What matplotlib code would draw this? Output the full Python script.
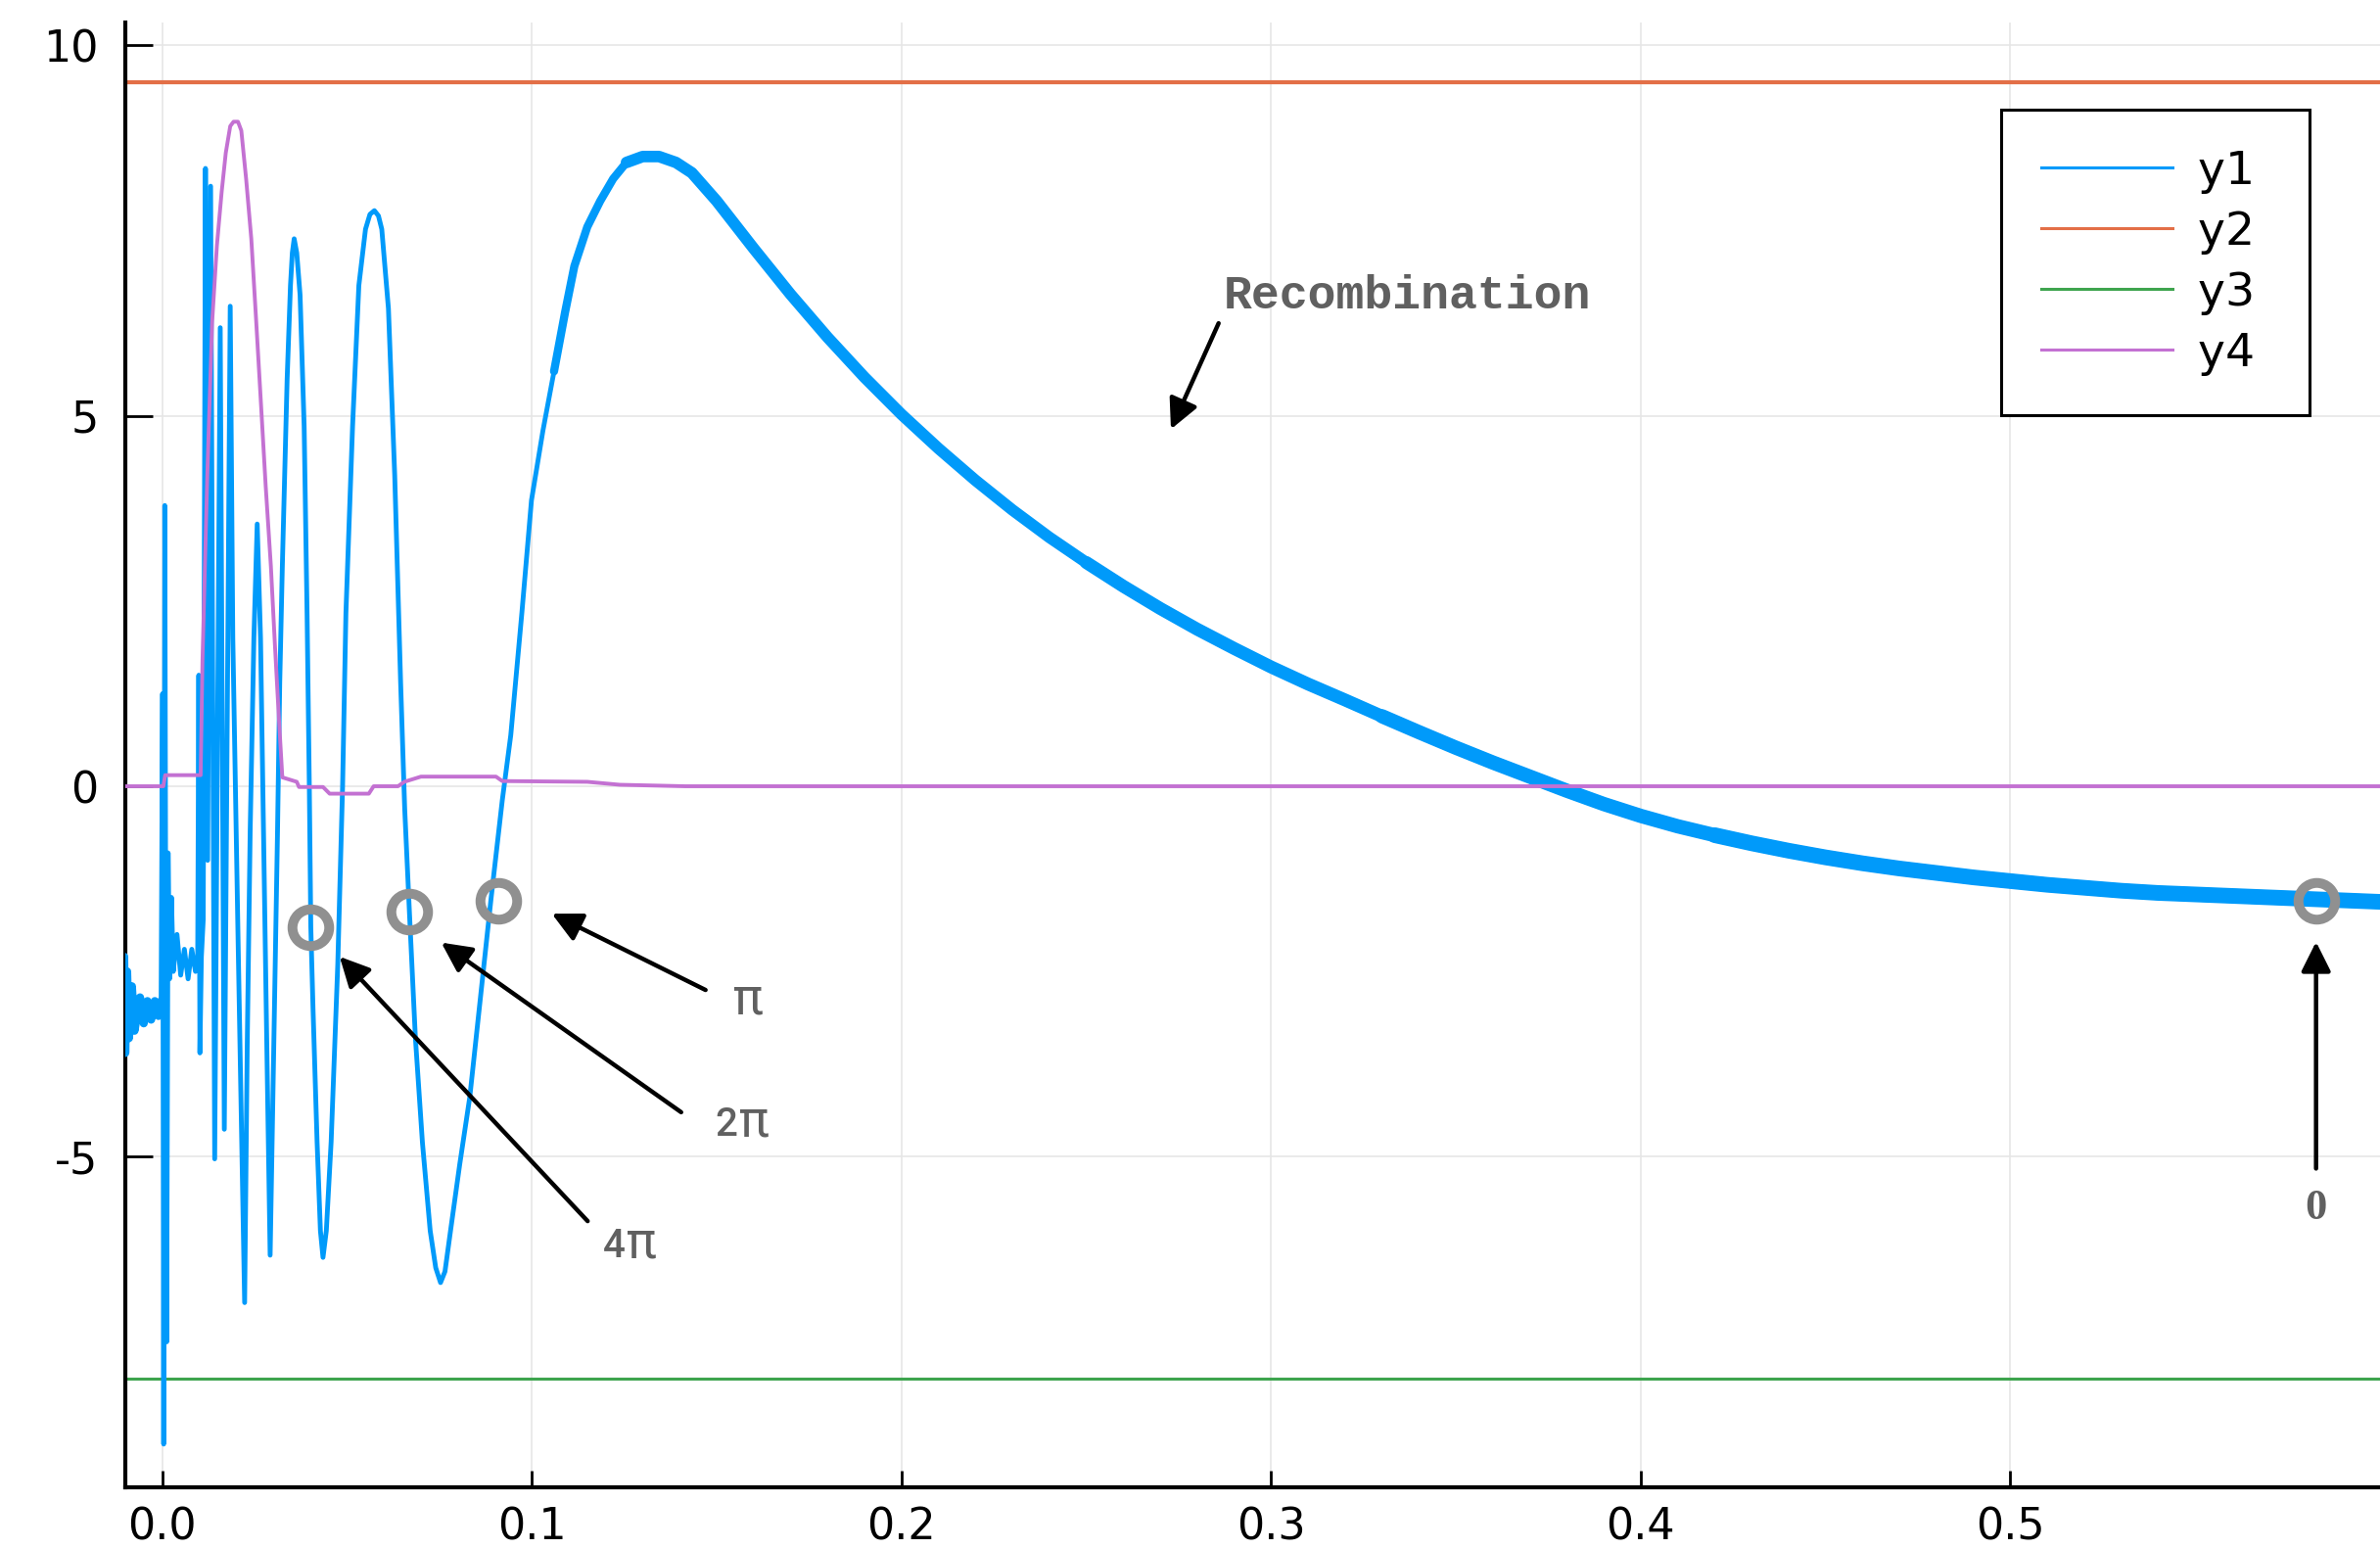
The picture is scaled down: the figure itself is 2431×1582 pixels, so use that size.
import matplotlib.pyplot as plt
from matplotlib.lines import Line2D

y1_x = [-0.0103, -0.0100, -0.0095, -0.0090, -0.0082, -0.0075, -0.0060, -0.0050, -0.0040,
        -0.0030, -0.0020, -0.0010, -0.0003, 0.0001, 0.0004, 0.0007, 0.0012, 0.0016, 0.0020,
        0.0025, 0.0030, 0.0040, 0.0050, 0.0060, 0.0070, 0.0080, 0.0090, 0.0096, 0.0099,
        0.0102, 0.0106, 0.0111, 0.0117, 0.0123, 0.0131, 0.0142, 0.0157, 0.0168, 0.0184,
        0.0191, 0.0205, 0.0223, 0.0230, 0.0238, 0.0248, 0.0257, 0.0266, 0.0274, 0.0283,
        0.0292, 0.0302, 0.0312, 0.0318, 0.0325, 0.0338, 0.0347, 0.0352, 0.0357, 0.0364,
        0.0373, 0.0384, 0.0392, 0.0398, 0.0402, 0.0408, 0.0419, 0.0428, 0.0435, 0.0444,
        0.0457, 0.0475, 0.0488, 0.0497, 0.0515, 0.0532, 0.0550, 0.0562, 0.0574, 0.0585,
        0.0594, 0.0612, 0.0629, 0.0645, 0.0656, 0.0669, 0.0685, 0.0704, 0.0725, 0.0740,
        0.0753, 0.0765, 0.0780, 0.0805, 0.0832, 0.0890, 0.0920, 0.0943, 0.0973, 0.0999,
        0.1030, 0.1060, 0.1090, 0.1115, 0.1150, 0.1185, 0.1220, 0.1256, 0.1300, 0.1344,
        0.1390, 0.1433, 0.1500, 0.1600, 0.1700, 0.1800, 0.1900, 0.2000, 0.2100, 0.2200,
        0.2300, 0.2400, 0.2500, 0.2600, 0.2700, 0.2800, 0.2900, 0.3000, 0.3100, 0.3200,
        0.3300, 0.3400, 0.3500, 0.3600, 0.3700, 0.3800, 0.3900, 0.4000, 0.4100, 0.4200,
        0.4300, 0.4400, 0.4500, 0.4600, 0.4700, 0.4800, 0.4900, 0.5000, 0.5100, 0.5200,
        0.5300, 0.5400, 0.5500, 0.5600, 0.5700, 0.5800, 0.5900, 0.6000]
y1_y = [-2.3, -3.6, -2.5, -3.4, -2.7, -3.3, -2.85, -3.2, -2.9,
        -3.15, -2.9, -3.1, -2.9, 1.25, -8.88, 3.79, -7.5, -0.9, -2.6,
        -1.5, -2.5, -2.0, -2.55, -2.2, -2.6, -2.2, -2.5, -2.3, 1.5,
        -3.6, -2.3, -1.8, 8.34, -1.0, 8.1, -5.03, 6.19, -4.63, 6.48,
        2.0, -2.0, -6.97, -3.5, -0.6, 2.0, 3.54, 2.0, -0.6, -3.5,
        -6.33, -3.5, -0.6, 1.4, 2.97, 5.5, 6.76, 7.2, 7.39, 7.2,
        6.63, 4.86, 2.3, 0.0, -1.9, -3.0, -4.8, -6.0, -6.36, -6.0,
        -4.8, -2.4, 0.0, 2.34, 4.86, 6.76, 7.52, 7.72, 7.77, 7.70,
        7.52, 6.45, 4.2, 1.4, -0.3, -1.72, -3.4, -4.81, -6.0, -6.5,
        -6.7, -6.55, -6.0, -5.1, -4.2, -1.5, -0.19, 0.69, 2.34, 3.86,
        4.8, 5.6, 6.4, 7.02, 7.55, 7.9, 8.2, 8.42, 8.5, 8.5,
        8.42, 8.28, 7.90, 7.26, 6.64, 6.06, 5.52, 5.02, 4.56, 4.13,
        3.73, 3.36, 3.02, 2.70, 2.40, 2.12, 1.86, 1.61, 1.38, 1.165,
        0.945, 0.73, 0.52, 0.32, 0.13, -0.06, -0.24, -0.40, -0.54, -0.66,
        -0.77, -0.87, -0.96, -1.04, -1.11, -1.17, -1.23, -1.28, -1.33, -1.37,
        -1.41, -1.44, -1.46, -1.48, -1.50, -1.52, -1.54, -1.56]

# y4: pulso
y4_x = [-0.0103, 0.0003, 0.0008, 0.0104, 0.0109, 0.0122, 0.0135, 0.0148, 0.0161, 0.0172,
        0.0184, 0.0193, 0.0205, 0.0214, 0.0227, 0.0241, 0.0254, 0.0267, 0.0280, 0.0294,
        0.0305, 0.0316, 0.0325, 0.0364, 0.0370, 0.0435, 0.0453, 0.0559, 0.0572, 0.0638,
        0.0655, 0.0700, 0.0903, 0.0920, 0.1150, 0.1238, 0.1415, 0.6000]
y4_y = [0.0, 0.0, 0.15, 0.15, 1.7, 4.2, 6.26, 7.3, 8.03, 8.55,
        8.91, 8.97, 8.97, 8.85, 8.2, 7.39, 6.3, 5.18, 4.05, 2.97,
        1.9, 0.89, 0.12, 0.06, -0.01, -0.01, -0.10, -0.10, 0.0, 0.0,
        0.06, 0.13, 0.13, 0.07, 0.06, 0.02, 0.0, 0.0]

# y2 e y3: niveis constantes
y2_x = [-0.0103, 0.6]
y2_y = [9.5, 9.5]
y3_x = [-0.0103, 0.6]
y3_y = [-8.0, -8.0]

nomes = ["y1", "y2", "y3", "y4"]

# circulos e setas das fases
circ_x = [0.0400, 0.0669, 0.0909, 0.5827]
circ_y = [-1.90, -1.69, -1.54, -1.54]
fase_num = ["4", "2", "", "0"]
fase_pi = [True, True, True, False]
fase_rot_x = [0.1252, 0.1555, 0.1586, 0.5827]
fase_rot_y = [-6.36, -4.72, -3.07, -5.84]
seta_ini_x = [0.1151, 0.1404, 0.1470, 0.5827]
seta_ini_y = [-5.87, -4.40, -2.75, -5.16]
seta_fim_x = [0.0480, 0.0755, 0.1054, 0.5827]
seta_fim_y = [-2.30, -2.11, -1.72, -2.10]

# anotacao "Recombination"
recomb_txt = "Recombination"
recomb_pos = (0.2872, 6.45)
recomb_seta_ini = (0.2858, 6.25)
recomb_seta_fim = (0.2729, 4.82)

xticks = [0.0, 0.1, 0.2, 0.3, 0.4, 0.5]
xticklabels = ["0.0", "0.1", "0.2", "0.3", "0.4", "0.5"]
yticks = [-5, 0, 5, 10]
yticklabels = ["-5", "0", "5", "10"]

azul = "#009AFA"
laranja = "#E36F47"
verde = "#3EA44E"
roxo = "#C371D2"
cinza = "#909090"
cinza_txt = "#606060"


def fatia(x_min, x_max):
    idx = [i for i, v in enumerate(y1_x) if x_min <= v <= x_max]
    return [y1_x[i] for i in idx], [y1_y[i] for i in idx]


def desenhar():
    fig = plt.figure(figsize=(24.31, 15.82), dpi=100)
    ax = fig.add_axes([0.05278, 0.03982, 0.94722, 0.94564])

    ax.plot(y1_x, y1_y, color=azul, lw=3.5, zorder=3)
    # partes ruidosas do sinal ficam mais grossas
    for x_min, x_max, lw in [(-0.02, -0.0003, 6), (0.106, 0.7, 6), (0.125, 0.7, 8.5),
                             (0.25, 0.7, 9.5), (0.33, 0.7, 10.5), (0.42, 0.7, 11.5)]:
        xs, ys = fatia(x_min, x_max)
        ax.plot(xs, ys, color=azul, lw=lw, solid_capstyle="round", solid_joinstyle="round", zorder=3)
    ax.plot(y2_x, y2_y, color=laranja, lw=3.0, zorder=2)
    ax.plot(y3_x, y3_y, color=verde, lw=2.2, zorder=2)
    ax.plot(y4_x, y4_y, color=roxo, lw=2.8, zorder=4)

    # circulos
    ax.plot(circ_x, circ_y, "o", mfc="none", mec=cinza, ms=27, mew=7.2, zorder=5)

    seta = dict(arrowstyle="-|>", color="black", lw=3.2, mutation_scale=46, shrinkA=0, shrinkB=0)
    for i in range(len(fase_num)):
        ax.annotate("", xy=(seta_fim_x[i], seta_fim_y[i]), xytext=(seta_ini_x[i], seta_ini_y[i]),
                    arrowprops=seta, zorder=6)
        if not fase_pi[i]:
            ax.text(fase_rot_x[i], fase_rot_y[i], fase_num[i], ha="center", va="baseline",
                    fontsize=32, fontweight="bold", family="Liberation Serif", color=cinza_txt)
        elif fase_num[i] == "":
            ax.text(fase_rot_x[i], fase_rot_y[i], "π", ha="center", va="baseline",
                    fontsize=37, family=["Roboto", "DejaVu Sans"], color=cinza_txt)
        else:
            ax.text(fase_rot_x[i], fase_rot_y[i], fase_num[i], ha="right", va="baseline",
                    fontsize=29, fontweight="medium", family=["Roboto", "DejaVu Sans"], color=cinza_txt)
            ax.text(fase_rot_x[i] + 0.0005, fase_rot_y[i], "π", ha="left", va="baseline",
                    fontsize=37, family=["Roboto", "DejaVu Sans"], color=cinza_txt)

    ax.annotate("", xy=recomb_seta_fim, xytext=recomb_seta_ini, arrowprops=seta, zorder=6)
    ax.text(recomb_pos[0], recomb_pos[1], recomb_txt, ha="left", va="baseline", fontsize=34.7,
            fontweight="bold", family="Liberation Mono", color=cinza_txt)

    # eixos
    ax.set_xlim(-0.0099, 0.6)
    ax.set_ylim(-9.463, 10.309)
    ax.set_xticks(xticks)
    ax.set_xticklabels(xticklabels)
    ax.set_yticks(yticks)
    ax.set_yticklabels(yticklabels)
    ax.grid(True, color="#e6e6e6", lw=1.2, zorder=0)
    ax.set_axisbelow(True)
    for lado in ["top", "right"]:
        ax.spines[lado].set_visible(False)
    for lado in ["left", "bottom"]:
        ax.spines[lado].set_linewidth(3)
    ax.tick_params(axis="y", direction="in", length=20, width=2, pad=20, labelsize=32)
    ax.tick_params(axis="x", direction="in", length=12, width=2, pad=14, labelsize=32)

    # legenda (espaco no fim do nome deixa mais folga a direita, como no original)
    handles = [Line2D([], [], color=c, lw=2.2) for c in [azul, laranja, verde, roxo]]
    leg = ax.legend(handles, [n + " " for n in nomes], loc="upper right",
                    bbox_to_anchor=(2359 / 2431, 1 - 112 / 1582),
                    bbox_transform=fig.transFigure, borderaxespad=0, fontsize=34, fancybox=False,
                    edgecolor="black", framealpha=1, borderpad=0.86, handlelength=2.85,
                    handletextpad=0.55, labelspacing=0.36)
    leg.get_frame().set_linewidth(2.2)
    leg.set_zorder(10)

    fig.savefig("out.png", dpi=100)


if __name__ == "__main__":
    desenhar()
